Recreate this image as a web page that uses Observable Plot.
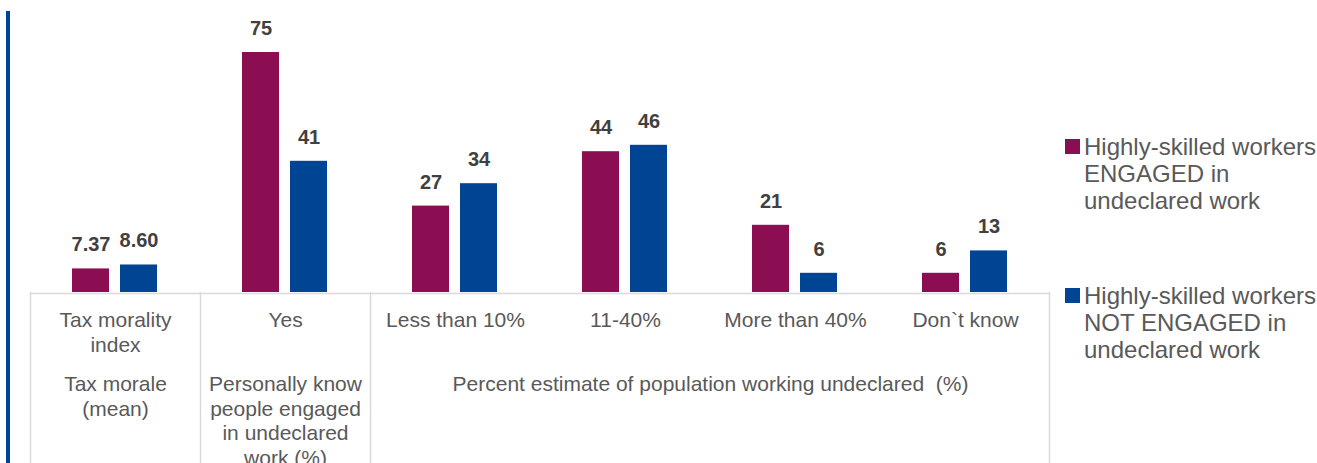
<!DOCTYPE html>
<html>
<head>
<meta charset="utf-8">
<script src="https://cdn.jsdelivr.net/npm/d3@7"></script>
<script src="https://cdn.jsdelivr.net/npm/@observablehq/plot@0.6"></script>
<style>
  html, body { margin: 0; padding: 0; background: #fff; }
  #wrap { position: relative; width: 1317px; height: 463px; overflow: hidden; font-family: "Liberation Sans", Arial, sans-serif; }
  #edge { position: absolute; left: 6px; top: 11px; width: 4px; height: 460px; background: #00449A; }
  #chart { position: absolute; left: 0; top: 0; }
  #legend { position: absolute; left: 1064px; top: 133px; color: #595959; font-size: 24px; line-height: 27px; }
  .item { position: relative; padding-left: 20px; margin-bottom: 68px; white-space: nowrap; }
  .sw { position: absolute; left: 1px; top: 6px; width: 15px; height: 15px; }
</style>
</head>
<body>
<div id="wrap">
  <div id="edge"></div>
  <div id="chart"></div>
  <div id="legend"></div>
</div>
<script>
// ---- data ----
const categories = ["Tax morality index", "Yes", "Less than 10%", "11-40%", "More than 40%", "Don`t know"];
const categoryLabels = ["Tax morality\nindex", "Yes", "Less than 10%", "11-40%", "More than 40%", "Don`t know"];
const seriesNames = ["Highly-skilled workers ENGAGED in undeclared work", "Highly-skilled workers NOT ENGAGED in undeclared work"];
const engaged = [7.37, 75, 27, 44, 21, 6];
const notEngaged = [8.60, 41, 34, 46, 6, 13];
const valueDecimals = [2, 0, 0, 0, 0, 0];
const groupLabels = ["Tax morale\n(mean)", "Personally know\npeople engaged\nin undeclared\nwork (%)", "Percent estimate of population working undeclared \u00a0(%)"];
const groupAnchors = ["Tax morality index", "Yes", "11-40%"];
const legendLines = [["Highly-skilled workers", "ENGAGED in", "undeclared work"], ["Highly-skilled workers", "NOT ENGAGED in", "undeclared work"]];
const colors = ["#8C0E52", "#004494"];
const leftSeparators = ["Tax morality index", "Yes", "Less than 10%"];
const rightSeparators = ["Don`t know"];

// ---- table ----
const rows = categories.flatMap((c, i) => [
  {category: c, series: seriesNames[0], value: engaged[i], label: engaged[i].toFixed(valueDecimals[i])},
  {category: c, series: seriesNames[1], value: notEngaged[i], label: notEngaged[i].toFixed(valueDecimals[i])}
]);
const groups = groupLabels.map((g, i) => ({fx: groupAnchors[i], label: g}));

const lineShape = {draw(context, l) { context.moveTo(0, 0); context.lineTo(0, -l); }};
const gridColor = "#D9D9D9";

const plot = Plot.plot({
  width: 1052,
  height: 463,
  marginLeft: 30,
  marginRight: 2,
  marginTop: 36,
  marginBottom: 171,
  style: {fontFamily: "'Liberation Sans', Arial, sans-serif", color: "#595959", background: "transparent", overflow: "visible"},
  fx: {domain: categories, padding: 0},
  x: {domain: seriesNames, paddingInner: 0.22, paddingOuter: 0.875, axis: null},
  y: {domain: [0, 80], axis: null},
  color: {domain: seriesNames, range: colors},
  marks: [
    Plot.ruleY([0], {stroke: gridColor, strokeWidth: 1.5, dy: 1}),
    Plot.barY(rows, {fx: "category", x: "series", y: "value", fill: "series"}),
    Plot.text(rows, {fx: "category", x: "series", y: "value", text: "label", dy: -24, lineAnchor: "middle", fontSize: 20, fontWeight: "bold", fill: "#404040"}),
    Plot.axisFx({anchor: "bottom", tickSize: 0, tickPadding: 17, fontSize: 21, lineHeight: 1.19, label: null, fill: "#595959",
      tickFormat: d => categoryLabels[categories.indexOf(d)]}),
    Plot.text(groups.slice(0, 2), {fx: "fx", text: "label", frameAnchor: "bottom", lineAnchor: "top", textAnchor: "middle", dy: 81, fontSize: 21, lineHeight: 1.17, fill: "#595959"}),
    Plot.text(groups.slice(2), {fx: "fx", text: "label", frameAnchor: "bottom-right", lineAnchor: "top", textAnchor: "middle", dy: 81, fontSize: 21, lineHeight: 1.17, fill: "#595959"}),
    Plot.vector(leftSeparators, {fx: d => d, frameAnchor: "bottom-left", length: 175, rotate: 180, anchor: "start", shape: lineShape, stroke: gridColor, strokeWidth: 1.5}),
    Plot.vector(rightSeparators, {fx: d => d, frameAnchor: "bottom-right", length: 175, rotate: 180, anchor: "start", shape: lineShape, stroke: gridColor, strokeWidth: 1.5, dx: -1})
  ]
});
document.getElementById("chart").appendChild(plot);

// ---- legend ----
const legend = document.getElementById("legend");
legendLines.forEach((lines, i) => {
  const item = document.createElement("div");
  item.className = "item";
  const sw = document.createElement("span");
  sw.className = "sw";
  sw.style.background = colors[i];
  item.appendChild(sw);
  lines.forEach(t => {
    const line = document.createElement("div");
    line.textContent = t;
    item.appendChild(line);
  });
  legend.appendChild(item);
});
</script>
</body>
</html>
